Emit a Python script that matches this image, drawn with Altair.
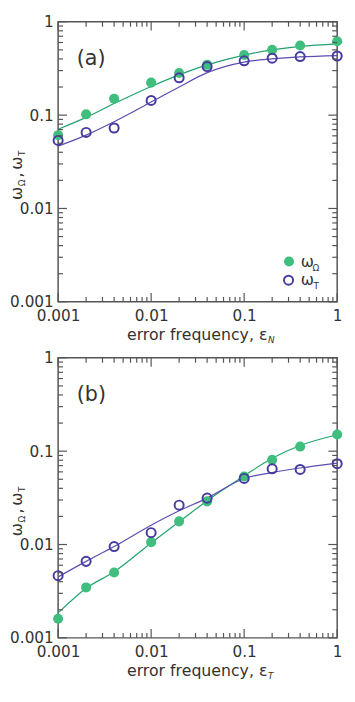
import altair as alt
import pandas as pd

# ---------------- data ----------------
eps = [0.001, 0.002, 0.004, 0.01, 0.02, 0.04, 0.1, 0.2, 0.4, 1.0]

# panel (a): error frequency eps_N
a_omega = [0.061, 0.102, 0.150, 0.223, 0.283, 0.347, 0.44, 0.50, 0.557, 0.618]
a_tau = [0.0536, 0.0653, 0.0728, 0.1436, 0.251, 0.331, 0.382, 0.407, 0.424, 0.43]
a_omega_fit = [0.0706, 0.0946, 0.133, 0.203, 0.27, 0.345, 0.44, 0.50, 0.545, 0.58]
a_tau_fit = [0.0465, 0.061, 0.085, 0.138, 0.20, 0.285, 0.37, 0.40, 0.42, 0.434]

# panel (b): error frequency eps_T
b_omega = [0.0016, 0.00347, 0.00502, 0.0106, 0.0177, 0.029, 0.0536, 0.0807, 0.112, 0.151]
b_tau = [0.00464, 0.0066, 0.0095, 0.0134, 0.0264, 0.0314, 0.0511, 0.0647, 0.0637, 0.0734]
b_omega_fit = [0.00185, 0.0034, 0.0051, 0.0104, 0.0175, 0.0295, 0.0544, 0.084, 0.115, 0.15]
b_tau_fit = [0.0045, 0.0066, 0.0095, 0.0161, 0.023, 0.0314, 0.051, 0.059, 0.066, 0.0746]

axis_values = [0.001, 0.01, 0.1, 1]
major_ticks = [0.001, 0.01, 0.1, 1]
minor_ticks = [m * d for d in [0.001, 0.01, 0.1] for m in range(2, 10)]

GREEN = "#40BE7D"
GREEN_LINE = "#22A36E"
PURPLE = "#463CA0"
PURPLE_LINE = "#5A4EB2"
TXT = "#333333"
FRAME = "#555555"
FONT = "DejaVu Sans"

W, H = 284, 285
MAJ, MIN = 9, 5


def panel(omega, tau, omega_fit, tau_fit, tag, sub, legend):
    pts = pd.DataFrame({"x": eps, "omega": omega, "tau": tau,
                        "omega_fit": omega_fit, "tau_fit": tau_fit})
    xs = alt.Scale(type="log", domain=[0.001, 1], nice=False)
    ys = alt.Scale(type="log", domain=[0.001, 1], nice=False)
    xax = alt.Axis(values=axis_values, format="~g", ticks=False, domain=False,
                   grid=False, labelFontSize=15.5, labelFont=FONT, labelColor=TXT,
                   labelPadding=7, labelFlush=False, labelOverlap=False, title=None)
    yax = alt.Axis(values=axis_values, format="~g", ticks=False, domain=False,
                   grid=False, labelFontSize=15.5, labelFont=FONT, labelColor=TXT,
                   labelPadding=5, labelOverlap=False, title=None)

    def X(f="x"):
        return alt.X(f"{f}:Q", scale=xs, axis=xax)

    def Y(f):
        return alt.Y(f"{f}:Q", scale=ys, axis=yax)

    base = alt.Chart(pts)
    layers = [
        base.mark_line(color=GREEN_LINE, strokeWidth=1.2, interpolate="monotone",
                       clip=True).encode(x=X(), y=Y("omega_fit")),
        base.mark_line(color=PURPLE_LINE, strokeWidth=1.2, interpolate="monotone",
                       clip=True).encode(x=X(), y=Y("tau_fit")),
        base.mark_circle(color=GREEN, size=105, opacity=1).encode(x=X(), y=Y("omega")),
        base.mark_point(shape="circle", filled=False, color=PURPLE, strokeWidth=2,
                        size=85, opacity=1).encode(x=X(), y=Y("tau")),
    ]

    # inward ticks on all four sides
    for vals, ln in [(major_ticks, MAJ), (minor_ticks, MIN)]:
        td = alt.Chart(pd.DataFrame({"v": vals}))
        layers += [
            td.mark_rule(color=FRAME, strokeWidth=1.2).encode(
                x=X("v"), y=alt.value(H), y2=alt.value(H - ln)),
            td.mark_rule(color=FRAME, strokeWidth=1.2).encode(
                x=X("v"), y=alt.value(0), y2=alt.value(ln)),
            td.mark_rule(color=FRAME, strokeWidth=1.2).encode(
                y=Y("v"), x=alt.value(0), x2=alt.value(ln)),
            td.mark_rule(color=FRAME, strokeWidth=1.2).encode(
                y=Y("v"), x=alt.value(W), x2=alt.value(W - ln)),
        ]

    def txt(t, x, y, size=16, align="left", angle=0, italic=False, baseline="middle"):
        kw = dict(text=t, fontSize=size, font=FONT, color=TXT, align=align,
                  baseline=baseline)
        if angle:
            kw["angle"] = angle
        if italic:
            kw["fontStyle"] = "italic"
        return alt.Chart(pd.DataFrame({"d": [0]})).mark_text(**kw).encode(
            x=alt.value(x), y=alt.value(y))

    # panel tag
    layers.append(txt(tag, 19, 38, size=21))
    # x title with subscript
    layers.append(txt("error frequency, ε", 213, H + 34, align="right"))
    layers.append(txt(sub, 213.5, H + 39, size=9, italic=True))
    # y title with subscripts (rotated)
    yt = H / 2 + 39
    layers.append(txt("ω", -41.5, yt, angle=270))
    layers.append(txt("Ω", -37, yt - 14, size=9, angle=270))
    layers.append(txt(",", -41.5, yt - 23, angle=270))
    layers.append(txt("ω", -41.5, yt - 31, angle=270))
    layers.append(txt("T", -37, yt - 45, size=9, angle=270))

    if legend:
        ld = alt.Chart(pd.DataFrame({"d": [0]}))
        lx, ly = W - 49, H - 41
        layers.append(ld.mark_circle(color=GREEN, size=105, opacity=1).encode(
            x=alt.value(lx), y=alt.value(ly)))
        layers.append(ld.mark_point(shape="circle", filled=False, color=PURPLE,
                                    strokeWidth=2, size=85, opacity=1).encode(
            x=alt.value(lx - 0.5), y=alt.value(ly + 19)))
        layers.append(txt("ω", lx + 12, ly + 1))
        layers.append(txt("Ω", lx + 24, ly + 7, size=9))
        layers.append(txt("ω", lx + 12, ly + 19))
        layers.append(txt("T", lx + 25, ly + 25, size=9))

    return alt.layer(*layers).properties(width=W, height=H)


top = panel(a_omega, a_tau, a_omega_fit, a_tau_fit, "(a)", "N", True)
bottom = panel(b_omega, b_tau, b_omega_fit, b_tau_fit, "(b)", "T", False)

chart = alt.vconcat(top, bottom, spacing=4).properties(
    padding={"left": 0, "top": 0, "right": 0, "bottom": 0}
).configure_view(stroke=FRAME, strokeWidth=1.5)

chart.save("out.html", embed_options={"renderer": "svg", "actions": False})
